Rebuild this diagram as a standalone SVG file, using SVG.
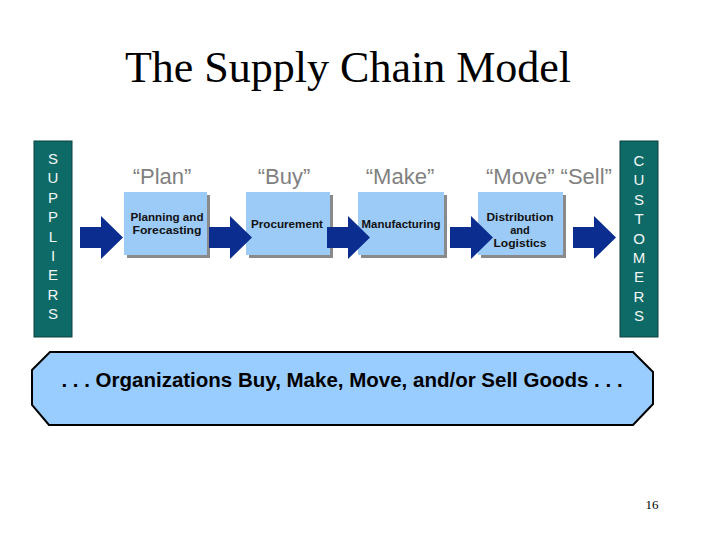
<svg xmlns="http://www.w3.org/2000/svg" width="720" height="540" viewBox="0 0 720 540">
<style>
.title{font-family:"Liberation Serif","Times New Roman",serif;font-size:44px;fill:#000}
.side{fill:#0E6A66;stroke:#0A3F3C;stroke-width:1}
.sidetxt{font-family:"Liberation Sans",Arial,sans-serif;font-size:15px;fill:#F2F6F6;text-anchor:middle}
.quote{font-family:"Liberation Sans",Arial,sans-serif;font-size:22px;fill:#808080;text-anchor:middle}
.box{fill:#9DCBF7}
.shadow{fill:#8A8A8A}
.boxtxt{font-family:"Liberation Sans",Arial,sans-serif;font-size:11px;font-weight:bold;fill:#111;text-anchor:middle}
.arrow{fill:#0A2D8F}
.banner{fill:#99CCFF;stroke:#000;stroke-width:2}
.bantxt{font-family:"Liberation Sans",Arial,sans-serif;font-size:20.5px;font-weight:bold;fill:#000;text-anchor:middle}
.page{font-family:"Liberation Serif","Times New Roman",serif;font-size:13px;fill:#000;text-anchor:middle}
</style>
<defs>
<path id="arr" d="M0,-10.5 H21 V-21.5 L43,0 L21,21.5 V10.5 H0 Z"/>
</defs>
<rect width="720" height="540" fill="#fff"/>
<text class="title" x="348" y="82" text-anchor="middle">The Supply Chain Model</text>

<g id="suppliers">
<rect class="side" x="34" y="141" width="38" height="196"/>
<text class="sidetxt" x="53" y="164"><tspan x="53">S</tspan><tspan x="53" dy="19.4">U</tspan><tspan x="53" dy="19.4">P</tspan><tspan x="53" dy="19.4">P</tspan><tspan x="53" dy="19.4">L</tspan><tspan x="53" dy="19.4">I</tspan><tspan x="53" dy="19.4">E</tspan><tspan x="53" dy="19.4">R</tspan><tspan x="53" dy="19.4">S</tspan></text>
</g>

<g id="customers">
<rect class="side" x="620" y="141" width="38" height="196"/>
<text class="sidetxt" x="639" y="166"><tspan x="639">C</tspan><tspan x="639" dy="19.4">U</tspan><tspan x="639" dy="19.4">S</tspan><tspan x="639" dy="19.4">T</tspan><tspan x="639" dy="19.4">O</tspan><tspan x="639" dy="19.4">M</tspan><tspan x="639" dy="19.4">E</tspan><tspan x="639" dy="19.4">R</tspan><tspan x="639" dy="19.4">S</tspan></text>
</g>

<g id="labels">
<text class="quote" x="162" y="184">“Plan”</text>
<text class="quote" x="284" y="184">“Buy”</text>
<text class="quote" x="400" y="184">“Make”</text>
<text class="quote" x="549" y="184">“Move” “Sell”</text>
</g>

<g id="plan">
<rect class="shadow" x="127" y="195" width="83" height="63"/>
<rect class="box" x="124" y="192" width="83" height="63"/>
<text class="boxtxt" x="167" y="220.5" textLength="73" lengthAdjust="spacingAndGlyphs">Planning and</text>
<text class="boxtxt" x="167" y="233.5" textLength="69" lengthAdjust="spacingAndGlyphs">Forecasting</text>
</g>
<g id="buy">
<rect class="shadow" x="249" y="195" width="84" height="63"/>
<rect class="box" x="246" y="192" width="84" height="63"/>
<text class="boxtxt" x="287" y="228" textLength="72" lengthAdjust="spacingAndGlyphs">Procurement</text>
</g>
<g id="make">
<rect class="shadow" x="361" y="195" width="86" height="63"/>
<rect class="box" x="358" y="192" width="86" height="63"/>
<text class="boxtxt" x="401" y="228" textLength="79" lengthAdjust="spacingAndGlyphs">Manufacturing</text>
</g>
<g id="move">
<rect class="shadow" x="481" y="195" width="85" height="63"/>
<rect class="box" x="478" y="192" width="85" height="63"/>
<text class="boxtxt" x="520" y="221" textLength="67" lengthAdjust="spacingAndGlyphs">Distribution</text>
<text class="boxtxt" x="520" y="234">and</text>
<text class="boxtxt" x="520" y="247" textLength="53" lengthAdjust="spacingAndGlyphs">Logistics</text>
</g>

<g id="connectors" class="arrow">
<use href="#arr" x="80" y="237.5"/>
<use href="#arr" x="209" y="237.5"/>
<use href="#arr" x="327" y="237.5"/>
<use href="#arr" x="450" y="237.5"/>
<use href="#arr" x="573" y="237.5"/>
</g>

<g id="banner">
<polygon class="banner" points="50,352 633,352 653,372 653,404 633,425 49,425 32,405 32,370"/>
<text class="bantxt" x="342" y="387">. . . Organizations Buy, Make, Move, and/or Sell Goods . . .</text>
</g>

<text class="page" x="652" y="509">16</text>
</svg>
